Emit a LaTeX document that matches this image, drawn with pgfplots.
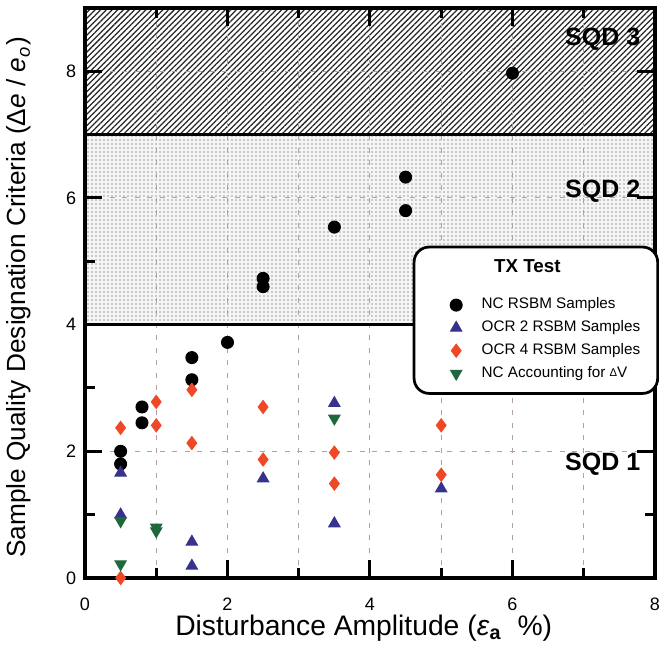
\documentclass[border=0pt]{standalone}
\usepackage{fontspec}
\setmainfont{Liberation Sans}
\usepackage{pgfplots}
\pgfplotsset{compat=1.18}
\usetikzlibrary{patterns.meta}
\definecolor{mblue}{RGB}{55,50,140}
\definecolor{mred}{RGB}{238,72,38}
\definecolor{mgreen}{RGB}{30,105,60}
\definecolor{mgrid}{RGB}{175,160,165}
\begin{document}
\begin{tikzpicture}
\begin{axis}[
  at={(0,0)}, anchor=south west,
  set layers,
  scale only axis, width=228pt, height=228pt,
  xmin=0, xmax=8, ymin=0, ymax=9,
  clip=false,
  xtick={0,2,4,6,8}, ytick={0,2,4,6,8},
  minor xtick={1,3,5,7}, minor ytick={1,3,5,7},
  tick align=inside,
  major tick length=7pt, minor tick length=4pt,
  tick style={black, line width=1.2pt},
  axis line style={line width=1.5pt},
  xmajorgrids, xminorgrids, ymajorgrids,
  major grid style={mgrid, dash pattern=on 2pt off 3pt, line width=0.4pt},
  minor grid style={mgrid, dash pattern=on 2pt off 3pt, line width=0.4pt},
  /pgf/number format/assume math mode=true,
  tick label style={font=\fontsize{7.2}{9}\selectfont},
  xticklabel style={yshift=-4.4pt},
  xlabel={Disturbance Amplitude (\textit{ε}\textsubscript{\textbf{a}}\ \ \%)},
  ylabel={Sample Quality Designation Criteria (Δ\textit{e} / \textit{e}\textsubscript{\textit{o}})},
  xlabel style={font=\fontsize{11.3}{13}\selectfont, at={(axis description cs:0.489,-0.088)}, anchor=center},
  ylabel style={font=\fontsize{10.5}{12}\selectfont, at={(axis description cs:-0.116,0.492)}, anchor=center},
  legend style={at={(axis description cs:0.575,0.583)}, anchor=north west,
    draw=black, line width=1.1pt, rounded corners=6pt,
    font=\fontsize{6.1}{7.4}\selectfont, inner xsep=5pt, inner ysep=3pt,
    row sep=-0.8pt, cells={anchor=west},
    /tikz/every odd column/.append style={column sep=5.8pt}},
  legend image post style={line width=0.4pt, xshift=3.3pt},
]
% regions
\addplot[forget plot, on layer=axis background, draw=none,
  pattern={Lines[angle=45, distance=1.6pt, line width=0.5pt]}, pattern color=black!85]
  coordinates {(0,7) (8,7) (8,9) (0,9) (0,7)};
\addplot[forget plot, on layer=axis background, draw=none, fill=gray!8]
  coordinates {(0,4) (8,4) (8,7) (0,7) (0,4)};
\addplot[forget plot, on layer=axis background, draw=none,
  pattern={Dots[distance=1.6pt, radius=0.38pt]}, pattern color=gray!75]
  coordinates {(0,4) (8,4) (8,7) (0,7) (0,4)};
\addplot[forget plot, black, line width=1.3pt] coordinates {(0,4) (8,4)};
\addplot[forget plot, black, line width=1.3pt] coordinates {(0,7) (8,7)};

\node[anchor=east, inner sep=0pt, font=\bfseries\fontsize{10}{12}\selectfont] at (axis cs:7.8,8.5) {SQD 3};
\node[anchor=east, inner sep=0pt, font=\bfseries\fontsize{10}{12}\selectfont] at (axis cs:7.8,6.11) {SQD 2};
\node[anchor=east, inner sep=0pt, font=\bfseries\fontsize{10}{12}\selectfont] at (axis cs:7.8,1.79) {SQD 1};

\addlegendimage{empty legend}
\addlegendentry{\raisebox{5.4pt}{\hspace*{5pt}\textbf{\fontsize{7.5}{9}\selectfont TX Test}}}

\addplot[only marks, mark=*, mark size=2.4pt, black] coordinates {
(0.5,2.0) (0.5,1.8) (0.8,2.7) (0.8,2.45) (1.5,3.13) (1.5,3.48) (2,3.72)
(2.5,4.73) (2.5,4.6) (3.5,5.54) (4.5,6.33) (4.5,5.8) (6,7.97)};
\addlegendentry{NC RSBM Samples}

\addplot[only marks, mark=triangle*, mark size=2.6pt, mblue] coordinates {
(0.5,1.66) (0.5,1.0) (1.5,0.57) (1.5,0.19) (2.5,1.57) (3.5,2.76) (3.5,0.86) (5,1.41)};
\addlegendentry{OCR 2 RSBM Samples}

\addplot[only marks, mark=diamond*, mark size=2.6pt, mred] coordinates {
(0.5,2.37) (0.5,0) (1,2.78) (1,2.41) (1.5,2.97) (1.5,2.13) (2.5,2.70) (2.5,1.87)
(3.5,1.98) (3.5,1.49) (5,2.41) (5,1.63)};
\addlegendentry{OCR 4 RSBM Samples}

\addplot[only marks, mark=triangle*, mark options={rotate=180}, mark size=2.6pt, mgreen] coordinates {
(0.5,0.9) (0.5,0.22) (1,0.8) (1,0.74) (3.5,2.52)};
\addlegendentry{NC Accounting for \raisebox{0.2pt}{\fontsize{4.5}{6}\selectfont Δ}V}
\end{axis}
\pgfresetboundingbox
\path[use as bounding box] (-34pt,-28pt) rectangle (229.6pt,231.2pt);
\end{tikzpicture}
\end{document}
